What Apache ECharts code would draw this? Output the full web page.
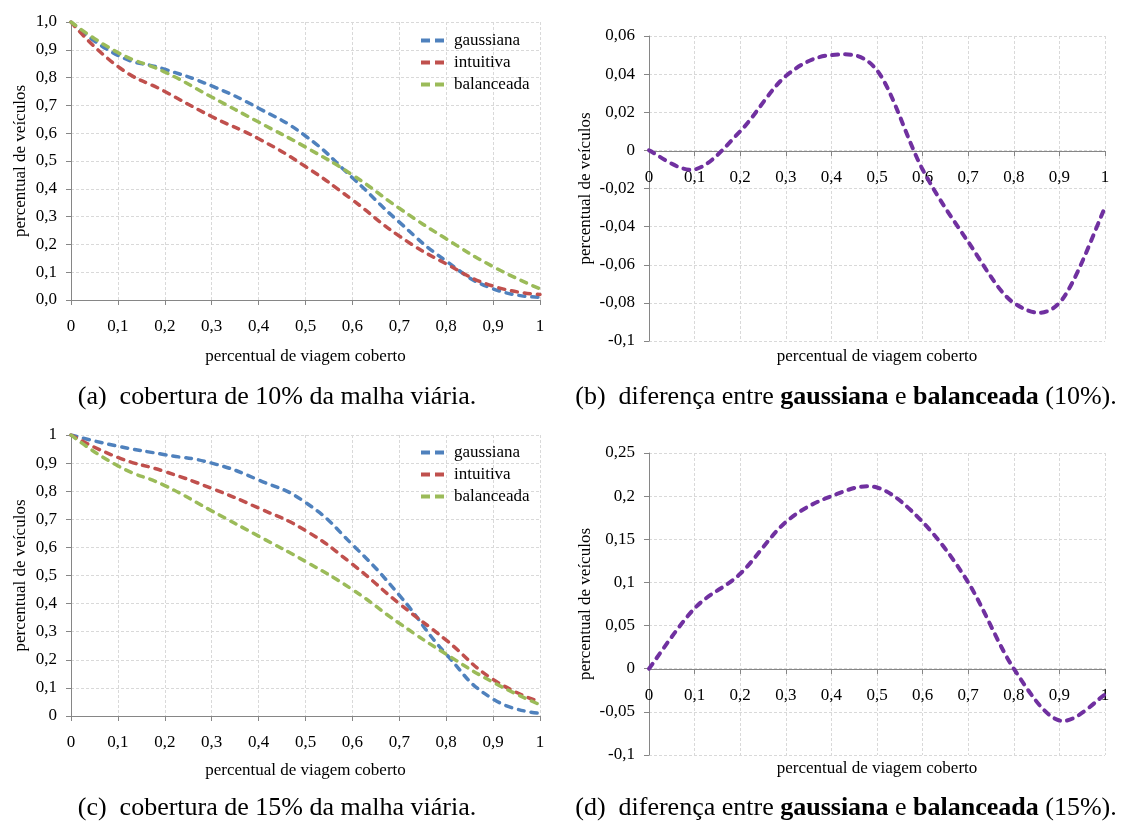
<!DOCTYPE html>
<html>
<head>
<meta charset="utf-8">
<script src="https://cdn.jsdelivr.net/npm/echarts@6/dist/echarts.min.js"></script>
<style>
    html, body { margin: 0; padding: 0; background: #ffffff; }
    #chart { width: 1121px; height: 822px; }
</style>
</head>
<body>
<div id="chart"></div>
<script>
// eixo x comum
const xValues = [0, 0.1, 0.2, 0.3, 0.4, 0.5, 0.6, 0.7, 0.8, 0.9, 1];
const xTickLabels = ["0", "0,1", "0,2", "0,3", "0,4", "0,5", "0,6", "0,7", "0,8", "0,9", "1"];

// (a) cobertura de 10%
const gaussiana10 = [1.0, 0.88, 0.83, 0.77, 0.69, 0.59, 0.44, 0.28, 0.14, 0.04, 0.01];
const intuitiva10 = [1.0, 0.84, 0.75, 0.66, 0.58, 0.48, 0.36, 0.23, 0.13, 0.05, 0.02];
const balanceada10 = [1.0, 0.89, 0.82, 0.73, 0.64, 0.55, 0.45, 0.33, 0.22, 0.12, 0.04];
const yTicksA = ["0,0", "0,1", "0,2", "0,3", "0,4", "0,5", "0,6", "0,7", "0,8", "0,9", "1,0"];

// (b) diferença 10%
const diferenca10 = [0, -0.01, 0.01, 0.039, 0.05, 0.042, -0.01, -0.048, -0.08, -0.08, -0.03];
const yTicksB = ["-0,1", "-0,08", "-0,06", "-0,04", "-0,02", "0", "0,02", "0,04", "0,06"];

// (c) cobertura de 15%
const gaussiana15 = [1.0, 0.96, 0.93, 0.90, 0.84, 0.76, 0.61, 0.43, 0.22, 0.06, 0.01];
const intuitiva15 = [1.0, 0.92, 0.87, 0.81, 0.74, 0.66, 0.54, 0.40, 0.27, 0.13, 0.05];
const balanceada15 = [1.0, 0.89, 0.82, 0.73, 0.64, 0.55, 0.45, 0.33, 0.22, 0.12, 0.04];
const yTicksC = ["0", "0,1", "0,2", "0,3", "0,4", "0,5", "0,6", "0,7", "0,8", "0,9", "1"];

// (d) diferença 15%
const diferenca15 = [0, 0.07, 0.11, 0.17, 0.20, 0.21, 0.17, 0.10, 0.0, -0.06, -0.03];
const yTicksD = ["-0,1", "-0,05", "0", "0,05", "0,1", "0,15", "0,2", "0,25"];

const seriesNames = ["gaussiana", "intuitiva", "balanceada"];
const captions = [
    "{n|(a)  cobertura de 10% da malha viária.}",
    "{n|(b)  diferença entre }{b|gaussiana}{n| e }{b|balanceada}{n| (10%).}",
    "{n|(c)  cobertura de 15% da malha viária.}",
    "{n|(d)  diferença entre }{b|gaussiana}{n| e }{b|balanceada}{n| (15%).}",
];

const FONT = "Liberation Serif";
const AXIS_COLOR = "#868686";
const GRID_COLOR = "#d9d9d9";
const colors = ["#4f81bd", "#c0504d", "#9bbb59"];
const purple = "#7030a0";

function pairs(ys) {
    return xValues.map((x, i) => [x, ys[i]]);
}

function tickFormatter(labels, min, step) {
    return function (v) {
        return labels[Math.round((v - min) / step)];
    };
}

// eixo x; offset leva a linha do eixo para o zero nos gráficos de diferença
function makeX(gridIndex, nameGap, offset) {
    return {
        gridIndex: gridIndex,
        type: "value",
        min: 0,
        max: 1,
        interval: 0.1,
        offset: offset,
        name: "percentual de viagem coberto",
        nameLocation: "middle",
        nameGap: nameGap,
        nameTextStyle: { fontFamily: FONT, fontSize: 17, color: "#000" },
        axisLine: { onZero: false, lineStyle: { color: AXIS_COLOR, width: 1 } },
        axisTick: { show: true, length: 5, lineStyle: { color: AXIS_COLOR } },
        axisLabel: {
            fontFamily: FONT,
            fontSize: 17,
            color: "#000",
            margin: 18,
            formatter: tickFormatter(xTickLabels, 0, 0.1),
        },
        splitLine: { show: true, lineStyle: { color: GRID_COLOR, type: [3, 2] } },
    };
}

function makeY(gridIndex, min, max, step, labels, nameGap) {
    return {
        gridIndex: gridIndex,
        type: "value",
        min: min,
        max: max,
        interval: step,
        name: "percentual de veículos",
        nameLocation: "middle",
        nameGap: nameGap,
        nameTextStyle: { fontFamily: FONT, fontSize: 17, color: "#000" },
        axisLine: { show: true, onZero: false, lineStyle: { color: AXIS_COLOR, width: 1 } },
        axisTick: { show: true, length: 5, lineStyle: { color: AXIS_COLOR } },
        axisLabel: {
            fontFamily: FONT,
            fontSize: 17,
            color: "#000",
            margin: 14,
            formatter: tickFormatter(labels, min, step),
        },
        splitLine: { show: true, lineStyle: { color: GRID_COLOR, type: [3, 2] } },
    };
}

function makeLine(name, ys, color, idx) {
    return {
        name: name,
        type: "line",
        xAxisIndex: idx,
        yAxisIndex: idx,
        data: pairs(ys),
        smooth: 0.5,
        symbol: "none",
        lineStyle: { color: color, width: 3.5, type: [6, 7], cap: "round" },
        itemStyle: { color: color },
    };
}

// curva suavizada tipo Excel (Catmull-Rom) sobre as coordenadas do eixo
function makeCurve(name, ys, color, idx) {
    const data = pairs(ys);
    return {
        name: name,
        type: "custom",
        xAxisIndex: idx,
        yAxisIndex: idx,
        data: data,
        encode: { x: 0, y: 1 },
        renderItem: function (params, api) {
            if (params.dataIndex !== 0) return null;
            const p = data.map((d) => api.coord(d));
            const n = p.length;
            let d = "M" + p[0][0] + " " + p[0][1];
            for (let i = 0; i < n - 1; i++) {
                const p0 = p[Math.max(i - 1, 0)];
                const p1 = p[i];
                const p2 = p[i + 1];
                const p3 = p[Math.min(i + 2, n - 1)];
                const c1x = p1[0] + (p2[0] - p0[0]) / 6;
                const c1y = p1[1] + (p2[1] - p0[1]) / 6;
                const c2x = p2[0] - (p3[0] - p1[0]) / 6;
                const c2y = p2[1] - (p3[1] - p1[1]) / 6;
                d += " C" + c1x + " " + c1y + " " + c2x + " " + c2y + " " + p2[0] + " " + p2[1];
            }
            return {
                type: "path",
                shape: { pathData: d },
                style: {
                    fill: null,
                    stroke: color,
                    lineWidth: 4,
                    lineDash: [6, 7],
                    lineCap: "round",
                },
            };
        },
    };
}

function makeLegend(top) {
    return {
        orient: "vertical",
        left: 419,
        top: top,
        padding: 0,
        itemWidth: 28,
        itemHeight: 14,
        itemGap: 5,
        data: seriesNames,
        itemStyle: { opacity: 0 },
        lineStyle: { width: 4, type: [9, 5], cap: "butt" },
        textStyle: { fontFamily: FONT, fontSize: 17, color: "#000" },
        selectedMode: false,
    };
}

const chart = echarts.init(document.getElementById("chart"));

const option = {
    backgroundColor: "#ffffff",
    animation: false,
    grid: [
        { left: 71, top: 22, width: 469, height: 278 },
        { left: 649, top: 36, width: 456, height: 305 },
        { left: 71, top: 435, width: 469, height: 281 },
        { left: 649, top: 453, width: 456, height: 302 },
    ],
    xAxis: [makeX(0, 48, 0), makeX(1, 197, -190), makeX(2, 46, 0), makeX(3, 91, -86)],
    yAxis: [
        makeY(0, 0, 1, 0.1, yTicksA, 42),
        makeY(1, -0.1, 0.06, 0.02, yTicksB, 55),
        makeY(2, 0, 1, 0.1, yTicksC, 42),
        makeY(3, -0.1, 0.25, 0.05, yTicksD, 55),
    ],
    legend: [makeLegend(32), makeLegend(444)],
    series: [
        makeLine("gaussiana", gaussiana10, colors[0], 0),
        makeLine("intuitiva", intuitiva10, colors[1], 0),
        makeLine("balanceada", balanceada10, colors[2], 0),
        makeCurve("diferença 10%", diferenca10, purple, 1),
        makeLine("gaussiana", gaussiana15, colors[0], 2),
        makeLine("intuitiva", intuitiva15, colors[1], 2),
        makeLine("balanceada", balanceada15, colors[2], 2),
        makeCurve("diferença 15%", diferenca15, purple, 3),
    ],
    graphic: captions.map((c, i) => ({
        type: "text",
        x: i % 2 === 0 ? 277 : 846,
        y: i < 2 ? 397 : 808,
        style: {
            text: c,
            align: "center",
            verticalAlign: "middle",
            rich: {
                n: { fontFamily: FONT, fontSize: 26, fill: "#000", color: "#000" },
                b: { fontFamily: FONT, fontSize: 26, fontWeight: "bold", fill: "#000", color: "#000" },
            },
        },
    })),
};

chart.setOption(option);
</script>
</body>
</html>
